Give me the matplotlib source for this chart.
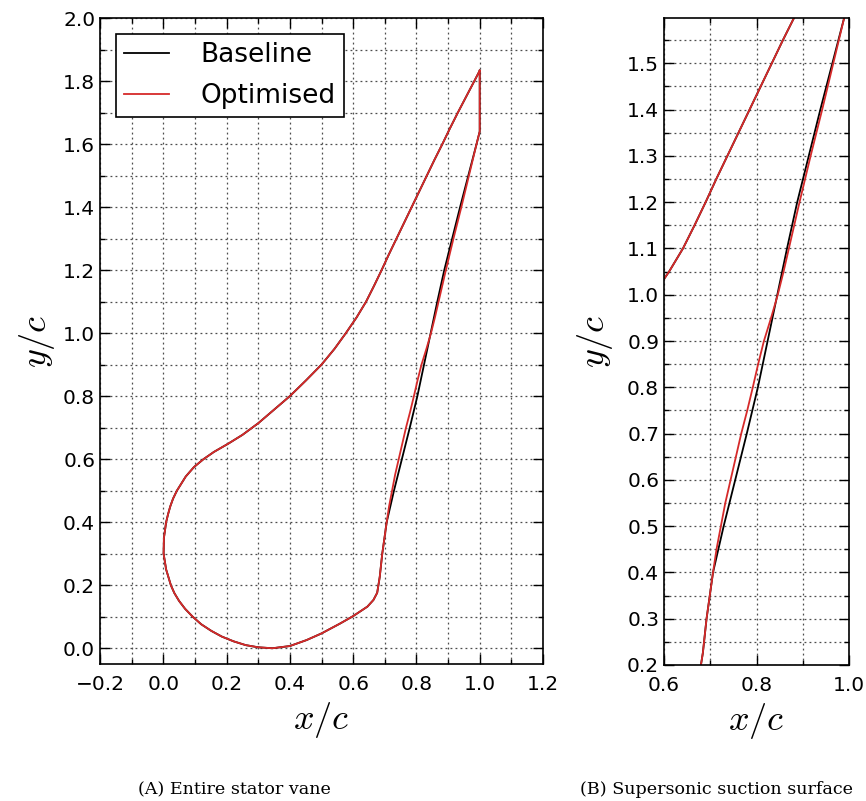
import matplotlib
matplotlib.use("Agg")
import matplotlib.pyplot as plt
from matplotlib.ticker import MultipleLocator, FixedLocator

plt.rcParams['mathtext.fontset'] = 'cm'
plt.rcParams['font.family'] = ['DejaVu Sans']

# ---- data: shared contour (trailing-edge top -> suction side -> leading edge -> lower side -> pressure side start)
common_x = [1.000, 0.983, 0.957, 0.931, 0.906, 0.882, 0.857, 0.833, 0.809, 0.785, 0.761, 0.737,
            0.713, 0.690, 0.666, 0.641, 0.611, 0.577, 0.541, 0.500, 0.451, 0.400, 0.350, 0.300,
            0.250, 0.205, 0.160, 0.127, 0.097, 0.071, 0.043, 0.031, 0.022, 0.015, 0.009, 0.002,
            0.001, 0.009, 0.024, 0.035, 0.050, 0.069, 0.093, 0.120, 0.152, 0.185, 0.222, 0.260,
            0.300, 0.345, 0.400, 0.453, 0.500, 0.558, 0.600, 0.645, 0.664, 0.676, 0.684, 0.692,
            0.699, 0.706]
common_y = [1.833, 1.800, 1.750, 1.700, 1.650, 1.600, 1.550, 1.500, 1.450, 1.400, 1.350, 1.300,
            1.250, 1.200, 1.150, 1.100, 1.050, 1.000, 0.950, 0.900, 0.850, 0.800, 0.757, 0.714,
            0.677, 0.649, 0.623, 0.600, 0.575, 0.545, 0.500, 0.475, 0.450, 0.425, 0.400, 0.350,
            0.300, 0.250, 0.200, 0.175, 0.150, 0.125, 0.100, 0.076, 0.055, 0.037, 0.022, 0.010,
            0.003, 0.000, 0.007, 0.026, 0.047, 0.078, 0.102, 0.132, 0.153, 0.176, 0.226, 0.300,
            0.350, 0.400]

# pressure side (from y=0.4 to trailing-edge bottom), then back to TE top
base_ps_x = [0.729, 0.754, 0.779, 0.803, 0.824, 0.845, 0.866, 0.888, 0.913, 0.938,
             0.964, 0.990, 1.000, 1.000]
base_ps_y = [0.500, 0.600, 0.700, 0.800, 0.900, 1.000, 1.100, 1.200, 1.300, 1.400,
             1.500, 1.600, 1.640, 1.833]

opt_ps_x = [0.7135, 0.723, 0.7325, 0.744, 0.7555, 0.767, 0.780, 0.792, 0.8035, 0.816,
            0.8315, 0.846, 0.8585, 0.870, 0.893, 0.917, 0.942, 0.966, 0.978, 0.990,
            1.000, 1.000]
opt_ps_y = [0.450, 0.500, 0.550, 0.600, 0.650, 0.700, 0.750, 0.800, 0.850, 0.900,
            0.950, 1.000, 1.050, 1.100, 1.200, 1.300, 1.400, 1.500, 1.550, 1.600,
            1.640, 1.833]

series_labels = ["Baseline", "Optimised"]
captions = ["(A) Entire stator vane", "(B) Supersonic suction surface"]

base_x = common_x + base_ps_x
base_y = common_y + base_ps_y
opt_x = common_x + opt_ps_x
opt_y = common_y + opt_ps_y

RED = '#d62a2a'

fig = plt.figure(figsize=(8.66, 8.01), dpi=100)
fig.patch.set_facecolor('white')

ax1 = fig.add_axes([100/866, (801-664)/801, 443/866, 646/801])
ax2 = fig.add_axes([664/866, (801-665)/801, 185/866, 647/801])

for ax in (ax1, ax2):
    ax.plot(base_x, base_y, color='k', lw=1.3, label=series_labels[0])
    ax.plot(opt_x, opt_y, color=RED, lw=1.3, label=series_labels[1])
    ax.grid(True, which='both', color='0.3', linestyle=(0, (1.5, 2.5)), linewidth=0.9)
    ax.set_axisbelow(True)
    ax.tick_params(which='both', direction='in', top=True, right=True, labelsize=14.5)
    ax.tick_params(axis='x', which='both', pad=8)
    ax.tick_params(which='major', length=7, width=1)
    ax.tick_params(which='minor', length=3.5, width=1)
    for s in ax.spines.values():
        s.set_linewidth(1.2)
    ax.set_xlabel(r'$x/c$', fontsize=26)
    ax.set_ylabel(r'$y/c$', fontsize=26)

ax1.set_xlim(-0.2, 1.2)
ax1.set_ylim(-0.05, 2.0)
ax1.xaxis.set_major_locator(MultipleLocator(0.2))
ax1.xaxis.set_minor_locator(MultipleLocator(0.1))
ax1.yaxis.set_major_locator(MultipleLocator(0.2))
ax1.yaxis.set_minor_locator(MultipleLocator(0.1))
ax1.xaxis.labelpad = 4
ax1.yaxis.labelpad = 4

ax2.set_xlim(0.6, 1.0)
ax2.set_ylim(0.2, 1.598)
ax2.xaxis.set_major_locator(FixedLocator([0.6, 0.8, 1.0]))
ax2.xaxis.set_minor_locator(FixedLocator([0.7, 0.9]))
ax2.yaxis.set_major_locator(FixedLocator([0.2, 0.3, 0.4, 0.5, 0.6, 0.7, 0.8, 0.9, 1.0,
                                          1.1, 1.2, 1.3, 1.4, 1.5]))
ax2.yaxis.set_minor_locator(FixedLocator([0.25, 0.35, 0.45, 0.55, 0.65, 0.75, 0.85, 0.95,
                                          1.05, 1.15, 1.25, 1.35, 1.45, 1.55]))
ax2.xaxis.labelpad = 4
ax2.yaxis.labelpad = 9

leg = ax1.legend(loc='upper left', fontsize=19, fancybox=False, framealpha=1,
                 edgecolor='k', handlelength=1.7, handletextpad=1.2,
                 borderpad=0.32, labelspacing=0.55, borderaxespad=0.6)
leg.get_frame().set_linewidth(1.2)

fig.text(234/866, 1-790/801, captions[0], ha='center', va='center',
         family='DejaVu Serif', fontsize=12.6)
fig.text(717/866, 1-790/801, captions[1], ha='center', va='center',
         family='DejaVu Serif', fontsize=12.6)

fig.savefig('out.png', dpi=100, facecolor='white')
